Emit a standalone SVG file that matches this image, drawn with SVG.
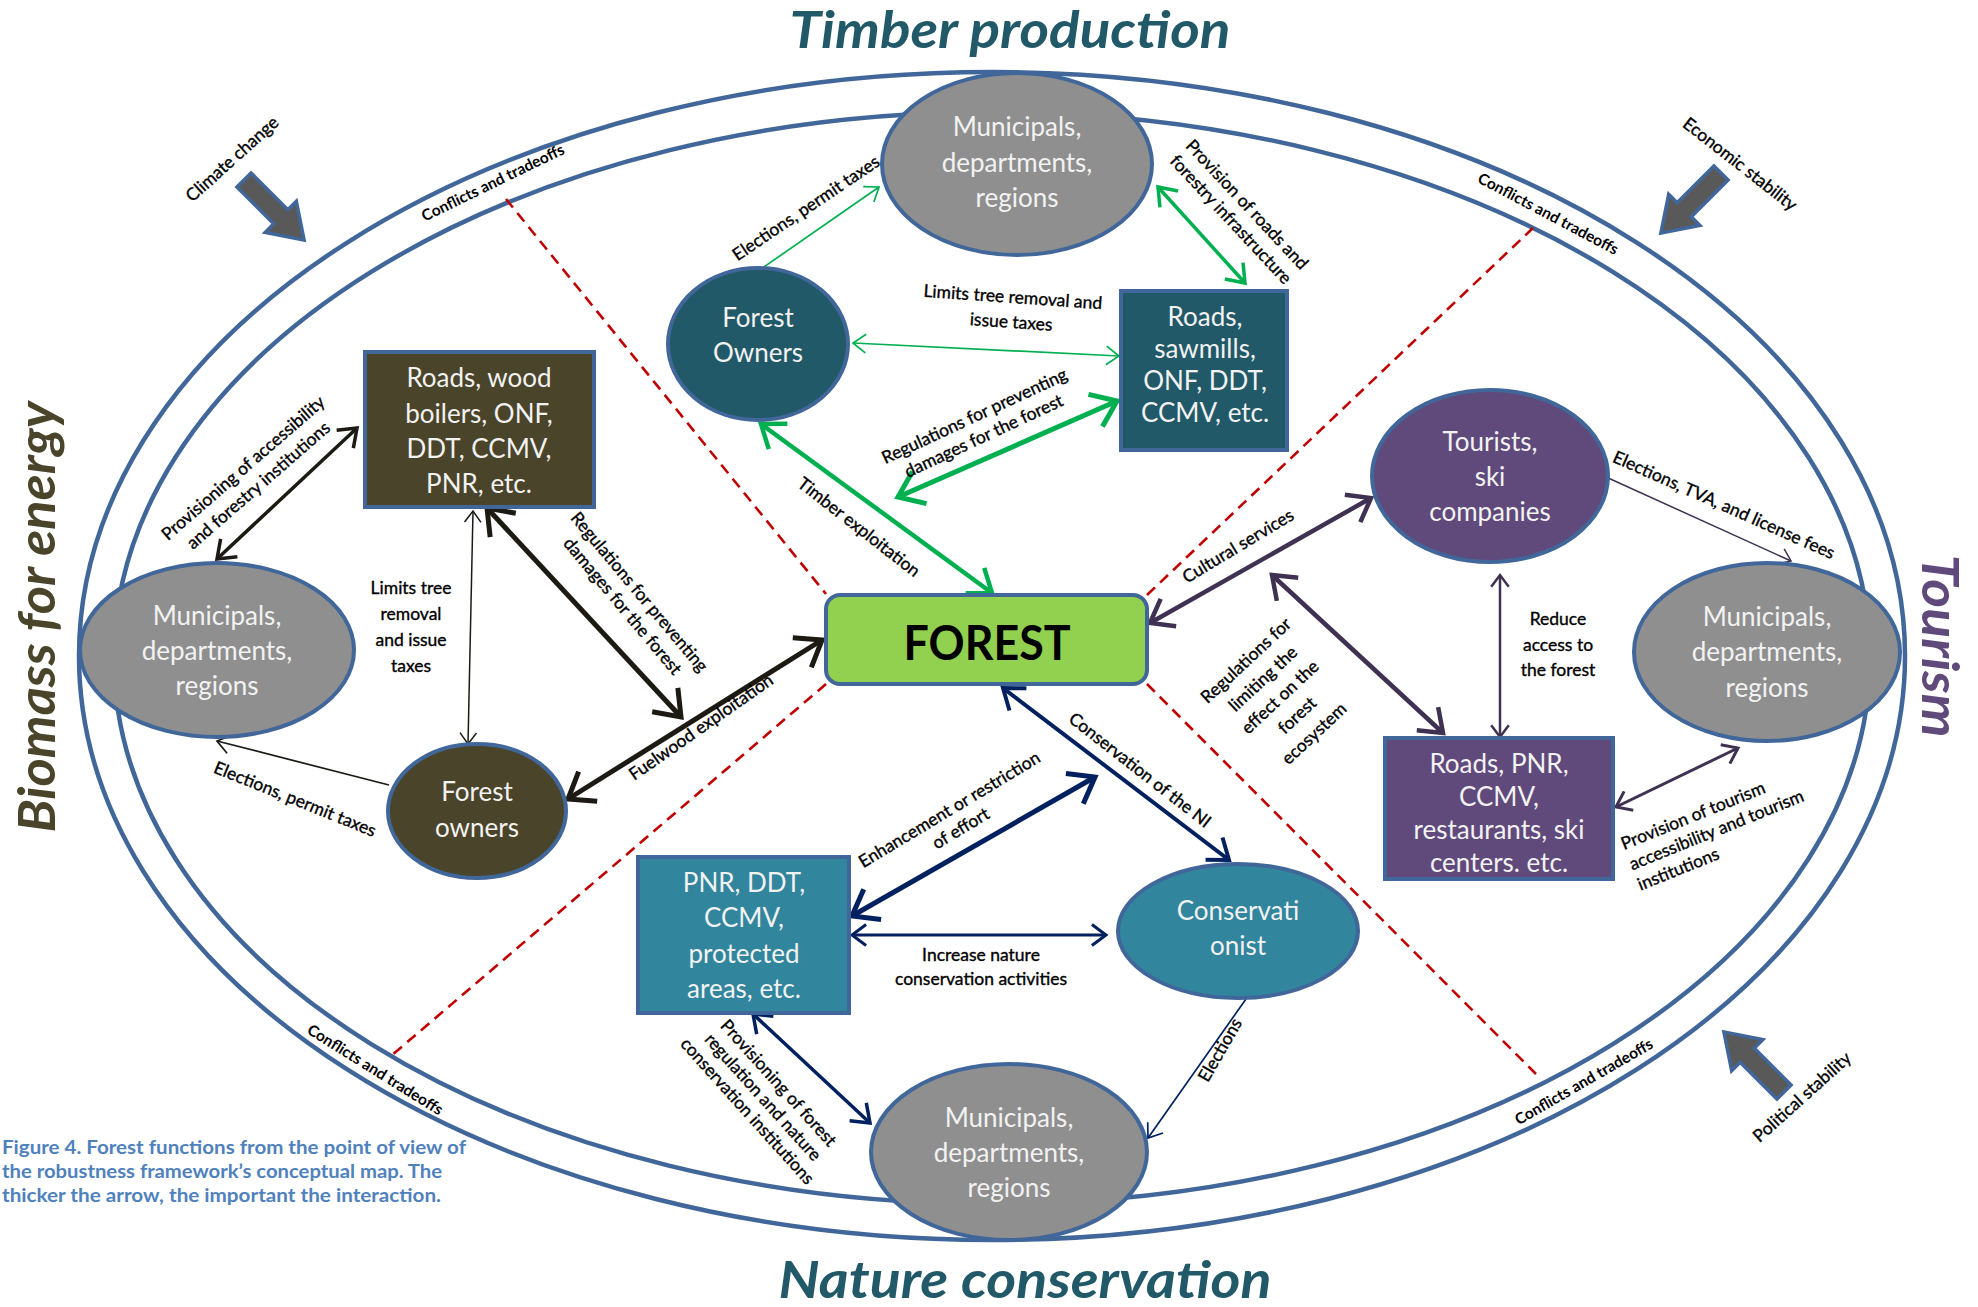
<svg xmlns="http://www.w3.org/2000/svg" width="1978" height="1307" viewBox="0 0 1978 1307">
<defs>
<style>
.ring{fill:none;stroke:#41679a;stroke-width:4.5}
.dash{stroke:#c00000;stroke-width:2.6;stroke-dasharray:11 7;fill:none}
.nd{stroke:#41679a;stroke-width:4}
.nt{fill:#f2f2f2;font-family:Lato,"Liberation Sans",sans-serif;font-size:26px;text-anchor:middle}
.lb{fill:#000;stroke:#000;stroke-width:0.35;font-family:Lato,"Liberation Sans",sans-serif;font-size:17.5px;text-anchor:middle}
.cf{fill:#000;font-family:Lato,"Liberation Sans",sans-serif;font-size:15.5px;font-weight:bold;text-anchor:middle}
.ti{font-family:Lato,"Liberation Sans",sans-serif;font-size:52px;font-weight:bold;font-style:italic;text-anchor:middle}
.ba{fill:#595959;stroke:#41679a;stroke-width:3.5}
.cap{fill:#4f81bd;font-family:Lato,"Liberation Sans",sans-serif;font-size:18px;font-weight:bold}
.c{fill:none;stroke-linecap:butt}
.g{stroke:#00b050}.k{stroke:#1c1a12}.p{stroke:#3f3151}.n{stroke:#002060}
</style>
<marker id="gt" viewBox="-10 -10 20 20" markerWidth="20" markerHeight="20" refX="0" refY="0" orient="auto-start-reverse"><path d="M-7.5,-5.5 L0,0 L-7.5,5.5" fill="none" stroke="#00b050" stroke-width="1"/></marker>
<marker id="gT" viewBox="-10 -10 20 20" markerWidth="20" markerHeight="20" refX="0" refY="0" orient="auto-start-reverse"><path d="M-4.7,-3.5 L0,0 L-4.7,3.5" fill="none" stroke="#00b050" stroke-width="1"/></marker>
<marker id="kt" viewBox="-10 -10 20 20" markerWidth="20" markerHeight="20" refX="0" refY="0" orient="auto-start-reverse"><path d="M-7.5,-5.5 L0,0 L-7.5,5.5" fill="none" stroke="#1c1a12" stroke-width="1"/></marker>
<marker id="kT" viewBox="-10 -10 20 20" markerWidth="20" markerHeight="20" refX="0" refY="0" orient="auto-start-reverse"><path d="M-4.7,-3.5 L0,0 L-4.7,3.5" fill="none" stroke="#1c1a12" stroke-width="1"/></marker>
<marker id="pt" viewBox="-10 -10 20 20" markerWidth="20" markerHeight="20" refX="0" refY="0" orient="auto-start-reverse"><path d="M-7.5,-5.5 L0,0 L-7.5,5.5" fill="none" stroke="#3f3151" stroke-width="1"/></marker>
<marker id="pT" viewBox="-10 -10 20 20" markerWidth="20" markerHeight="20" refX="0" refY="0" orient="auto-start-reverse"><path d="M-4.7,-3.5 L0,0 L-4.7,3.5" fill="none" stroke="#3f3151" stroke-width="1"/></marker>
<marker id="nt" viewBox="-10 -10 20 20" markerWidth="20" markerHeight="20" refX="0" refY="0" orient="auto-start-reverse"><path d="M-7.5,-5.5 L0,0 L-7.5,5.5" fill="none" stroke="#002060" stroke-width="1"/></marker>
<marker id="nT" viewBox="-10 -10 20 20" markerWidth="20" markerHeight="20" refX="0" refY="0" orient="auto-start-reverse"><path d="M-4.7,-3.5 L0,0 L-4.7,3.5" fill="none" stroke="#002060" stroke-width="1"/></marker>
<polygon id="barrow" points="0,-10 52,-10 52,-22 85,0 52,22 52,10 0,10"/>
</defs>
<rect width="1978" height="1307" fill="#fff"/>

<g id="frame">
<ellipse class="ring" cx="992" cy="656" rx="913" ry="584"/>
<ellipse class="ring" cx="992" cy="658" rx="878" ry="546"/>
<line class="dash" x1="506" y1="199" x2="826" y2="594"/>
<line class="dash" x1="826" y1="684" x2="391" y2="1056"/>
<line class="dash" x1="1147" y1="595" x2="1533" y2="228"/>
<line class="dash" x1="1147" y1="684" x2="1536" y2="1074"/>
<text class="cf" transform="translate(493,183) rotate(-26)" y="5">Conflicts and tradeoffs</text>
<text class="cf" transform="translate(1548,214) rotate(28)" y="5">Conflicts and tradeoffs</text>
<text class="cf" transform="translate(375,1070) rotate(32)" y="5">Conflicts and tradeoffs</text>
<text class="cf" transform="translate(1584,1082) rotate(-30)" y="5">Conflicts and tradeoffs</text>
</g>

<g id="titles">
<text class="ti" x="1010" y="48" fill="#215968" textLength="441" lengthAdjust="spacingAndGlyphs">Timber production</text>
<text class="ti" x="1025" y="1298" fill="#215968" textLength="493" lengthAdjust="spacingAndGlyphs">Nature conservation</text>
<text class="ti" transform="translate(55,617) rotate(-90)" fill="#4a442a" textLength="431" lengthAdjust="spacingAndGlyphs">Biomass for energy</text>
<text class="ti" transform="translate(1922,646) rotate(90)" fill="#604a7b" textLength="183" lengthAdjust="spacingAndGlyphs">Tourism</text>
</g>

<g id="drivers">
<use href="#barrow" class="ba" transform="translate(244,180) rotate(45)"/>
<text class="lb" transform="translate(232,159) rotate(-42)" y="6">Climate change</text>
<use href="#barrow" class="ba" transform="translate(1721,173) rotate(135)"/>
<text class="lb" transform="translate(1740,164) rotate(38)" y="6">Economic stability</text>
<use href="#barrow" class="ba" transform="translate(1784,1092) rotate(-135)"/>
<text class="lb" transform="translate(1802,1097) rotate(-42)" y="6">Political stability</text>
</g>

<g id="connectors">
<line class="c g" x1="761" y1="269" x2="879" y2="187" stroke-width="1.7" marker-end="url(#gt)"/>
<line class="c g" x1="1158" y1="187" x2="1245" y2="283" stroke-width="3.5" marker-start="url(#gT)" marker-end="url(#gT)"/>
<line class="c g" x1="853" y1="343" x2="1119" y2="356" stroke-width="1.7" marker-start="url(#gt)" marker-end="url(#gt)"/>
<line class="c g" x1="1117" y1="401" x2="898" y2="497" stroke-width="5" marker-start="url(#gT)" marker-end="url(#gT)"/>
<line class="c g" x1="761" y1="424" x2="992" y2="593" stroke-width="4.5" marker-start="url(#gT)" marker-end="url(#gT)"/>

<line class="c k" x1="357" y1="428" x2="217" y2="559" stroke-width="3.5" marker-start="url(#kT)" marker-end="url(#kT)"/>
<line class="c k" x1="473" y1="511" x2="468" y2="744" stroke-width="1.5" marker-start="url(#kt)" marker-end="url(#kt)"/>
<line class="c k" x1="487" y1="508" x2="681" y2="717" stroke-width="5" marker-start="url(#kT)" marker-end="url(#kT)"/>
<line class="c k" x1="568" y1="799" x2="822" y2="640" stroke-width="5" marker-start="url(#kT)" marker-end="url(#kT)"/>
<line class="c k" x1="389" y1="785" x2="217" y2="741" stroke-width="1.7" marker-end="url(#kt)"/>

<line class="c p" x1="1371" y1="498" x2="1150" y2="623" stroke-width="4.5" marker-start="url(#pT)" marker-end="url(#pT)"/>
<line class="c p" x1="1443" y1="733" x2="1272" y2="575" stroke-width="4.5" marker-start="url(#pT)" marker-end="url(#pT)"/>
<line class="c p" x1="1500" y1="575" x2="1500" y2="737" stroke-width="2.5" marker-start="url(#pT)" marker-end="url(#pT)"/>
<line class="c p" x1="1606" y1="477" x2="1791" y2="561" stroke-width="1.5" marker-end="url(#pt)"/>
<line class="c p" x1="1616" y1="807" x2="1738" y2="748" stroke-width="3" marker-start="url(#pT)" marker-end="url(#pT)"/>

<line class="c n" x1="1003" y1="688" x2="1229" y2="860" stroke-width="4" marker-start="url(#nT)" marker-end="url(#nT)"/>
<line class="c n" x1="852" y1="916" x2="1095" y2="777" stroke-width="5" marker-start="url(#nT)" marker-end="url(#nT)"/>
<line class="c n" x1="852" y1="935" x2="1106" y2="935" stroke-width="3" marker-start="url(#nT)" marker-end="url(#nT)"/>
<line class="c n" x1="753" y1="1014" x2="870" y2="1123" stroke-width="3.5" marker-start="url(#nT)" marker-end="url(#nT)"/>
<line class="c n" x1="1246" y1="999" x2="1148" y2="1138" stroke-width="1.7" marker-end="url(#nt)"/>
</g>

<g id="labels">
<text class="lb" transform="translate(806,208) rotate(-34)" y="6">Elections, permit taxes</text>
<text class="lb" transform="translate(1239,212) rotate(47)"><tspan x="0" y="-5">Provision of roads and</tspan><tspan x="0" y="17">forestry infrastructure</tspan></text>
<text class="lb" transform="translate(1012,310) rotate(4)"><tspan x="0" y="-7">Limits tree removal and</tspan><tspan x="0" y="18">issue taxes</tspan></text>
<text class="lb" transform="translate(979,426) rotate(-25)"><tspan x="0" y="-5">Regulations for preventing</tspan><tspan x="0" y="17">damages for the forest</tspan></text>
<text class="lb" transform="translate(859,527) rotate(38)" y="6">Timber exploitation</text>

<text class="lb" transform="translate(251,477) rotate(-41)"><tspan x="0" y="-6">Provisioning of accessibility</tspan><tspan x="0" y="17">and forestry institutions</tspan></text>
<text class="lb"><tspan x="411" y="594">Limits tree</tspan><tspan x="411" y="620">removal</tspan><tspan x="411" y="646">and issue</tspan><tspan x="411" y="672">taxes</tspan></text>
<text class="lb" transform="translate(631,599) rotate(50)"><tspan x="0" y="-5">Regulations for preventing</tspan><tspan x="0" y="17">damages for the forest</tspan></text>
<text class="lb" transform="translate(701,727) rotate(-35)" y="6">Fuelwood exploitation</text>
<text class="lb" transform="translate(295,799) rotate(22)" y="6">Elections, permit taxes</text>

<text class="lb" transform="translate(1238,546) rotate(-31)" y="6">Cultural services</text>
<text class="lb" transform="translate(1280,697) rotate(-43)"><tspan x="0" y="-44">Regulations for</tspan><tspan x="0" y="-19">limiting the</tspan><tspan x="0" y="6">effect on the</tspan><tspan x="0" y="31">forest</tspan><tspan x="0" y="56">ecosystem</tspan></text>
<text class="lb"><tspan x="1558" y="625">Reduce</tspan><tspan x="1558" y="651">access to</tspan><tspan x="1558" y="676">the forest</tspan></text>
<text class="lb" transform="translate(1724,505) rotate(24)" y="6">Elections, TVA, and license fees</text>
<text class="lb" transform="translate(1624,850) rotate(-22)" style="text-anchor:start"><tspan x="0" y="0">Provision of tourism</tspan><tspan x="0" y="22">accessibility and tourism</tspan><tspan x="0" y="44">institutions</tspan></text>

<text class="lb" transform="translate(1140,770) rotate(38)" y="6">Conservation of the NI</text>
<text class="lb" transform="translate(955,819) rotate(-31)"><tspan x="0" y="-5">Enhancement or restriction</tspan><tspan x="0" y="17">of effort</tspan></text>
<text class="lb"><tspan x="981" y="961">Increase nature</tspan><tspan x="981" y="985">conservation activities</tspan></text>
<text class="lb" transform="translate(763,1097) rotate(48)"><tspan x="0" y="-15">Provisioning of forest</tspan><tspan x="0" y="6">regulation and nature</tspan><tspan x="0" y="27">conservation institutions</tspan></text>
<text class="lb" transform="translate(1220,1050) rotate(-60)" y="6">Elections</text>
</g>

<g id="node-muni-top"><ellipse class="nd" cx="1017" cy="164" rx="135" ry="91" fill="#8f8f8f"/><text class="nt"><tspan x="1017" y="136">Municipals,</tspan><tspan x="1017" y="172">departments,</tspan><tspan x="1017" y="207">regions</tspan></text></g>
<g id="node-owners-timber"><ellipse class="nd" cx="758" cy="344" rx="90" ry="76" fill="#215968"/><text class="nt"><tspan x="758" y="327">Forest</tspan><tspan x="758" y="362">Owners</tspan></text></g>
<g id="node-roads-timber"><rect class="nd" x="1121" y="291" width="166" height="159" fill="#215968"/><text class="nt"><tspan x="1205" y="326">Roads,</tspan><tspan x="1205" y="358">sawmills,</tspan><tspan x="1205" y="390">ONF, DDT,</tspan><tspan x="1205" y="422">CCMV, etc.</tspan></text></g>
<g id="node-forest"><rect x="826" y="595" width="321" height="89" rx="14" fill="#92d050" stroke="#41679a" stroke-width="4"/><text x="987" y="660" font-family="Lato,'Liberation Sans',sans-serif" font-size="48" font-weight="bold" text-anchor="middle" fill="#000" textLength="167" lengthAdjust="spacingAndGlyphs">FOREST</text></g>
<g id="node-roads-biomass"><rect class="nd" x="365" y="352" width="229" height="155" fill="#4a442a"/><text class="nt"><tspan x="479" y="387">Roads, wood</tspan><tspan x="479" y="423">boilers, ONF,</tspan><tspan x="479" y="458">DDT, CCMV,</tspan><tspan x="479" y="493">PNR, etc.</tspan></text></g>
<g id="node-muni-left"><ellipse class="nd" cx="217" cy="650" rx="137" ry="87" fill="#8f8f8f"/><text class="nt"><tspan x="217" y="625">Municipals,</tspan><tspan x="217" y="660">departments,</tspan><tspan x="217" y="695">regions</tspan></text></g>
<g id="node-owners-biomass"><ellipse class="nd" cx="477" cy="811" rx="89" ry="67" fill="#4a442a"/><text class="nt"><tspan x="477" y="801">Forest</tspan><tspan x="477" y="837">owners</tspan></text></g>
<g id="node-tourists"><ellipse class="nd" cx="1490" cy="476" rx="118" ry="86" fill="#604a7b"/><text class="nt"><tspan x="1490" y="451">Tourists,</tspan><tspan x="1490" y="486">ski</tspan><tspan x="1490" y="521">companies</tspan></text></g>
<g id="node-muni-right"><ellipse class="nd" cx="1767" cy="652" rx="133" ry="89" fill="#8f8f8f"/><text class="nt"><tspan x="1767" y="626">Municipals,</tspan><tspan x="1767" y="661">departments,</tspan><tspan x="1767" y="697">regions</tspan></text></g>
<g id="node-roads-tourism"><rect class="nd" x="1385" y="738" width="228" height="141" fill="#604a7b"/><text class="nt"><tspan x="1499" y="773">Roads, PNR,</tspan><tspan x="1499" y="806">CCMV,</tspan><tspan x="1499" y="839">restaurants, ski</tspan><tspan x="1499" y="872">centers. etc.</tspan></text></g>
<g id="node-pnr"><rect class="nd" x="638" y="857" width="211" height="156" fill="#31859c"/><text class="nt"><tspan x="744" y="892">PNR, DDT,</tspan><tspan x="744" y="927">CCMV,</tspan><tspan x="744" y="963">protected</tspan><tspan x="744" y="998">areas, etc.</tspan></text></g>
<g id="node-conservationist"><ellipse class="nd" cx="1238" cy="931" rx="120" ry="67" fill="#31859c"/><text class="nt"><tspan x="1238" y="920">Conservati</tspan><tspan x="1238" y="955">onist</tspan></text></g>
<g id="node-muni-bottom"><ellipse class="nd" cx="1009" cy="1152" rx="138" ry="88" fill="#8f8f8f"/><text class="nt"><tspan x="1009" y="1127">Municipals,</tspan><tspan x="1009" y="1162">departments,</tspan><tspan x="1009" y="1197">regions</tspan></text></g>

<g id="caption">
<text class="cap" x="2" y="1154" textLength="464" lengthAdjust="spacingAndGlyphs">Figure 4. Forest functions from the point of view of</text>
<text class="cap" x="2" y="1178" textLength="440" lengthAdjust="spacingAndGlyphs">the robustness framework’s conceptual map. The</text>
<text class="cap" x="2" y="1202" textLength="439" lengthAdjust="spacingAndGlyphs">thicker the arrow, the important the interaction.</text>
</g>
</svg>
